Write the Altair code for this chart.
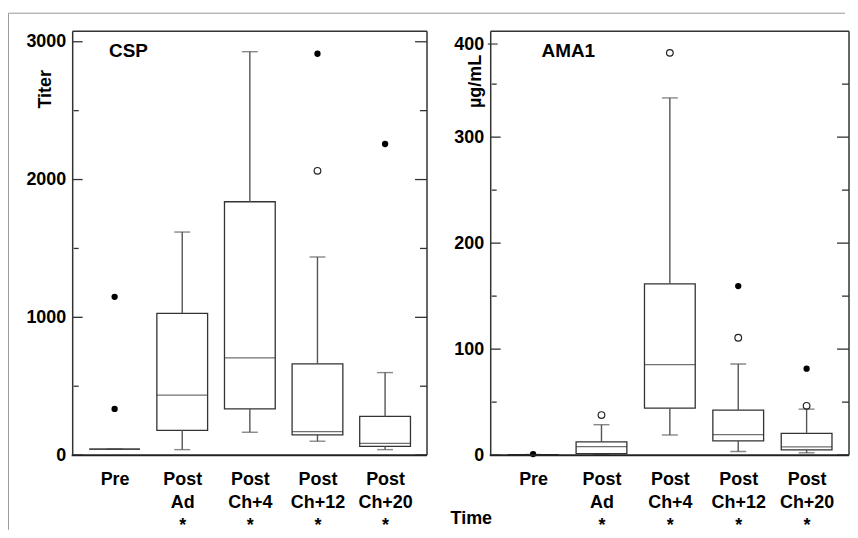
import altair as alt
import pandas as pd

# ---------------- data ----------------
groups = ["Pre", "Post|Ad|*", "Post|Ch+4|*", "Post|Ch+12|*", "Post|Ch+20|*"]

csp_low = [43, 40, 166, 101, 40]
csp_q1 = [43, 180, 335, 147, 64]
csp_med = [43, 436, 706, 171, 86]
csp_q3 = [43, 1029, 1839, 662, 281]
csp_high = [43, 1619, 2928, 1438, 599]
csp_out_group = ["Pre", "Pre", "Post|Ch+12|*", "Post|Ch+12|*", "Post|Ch+20|*"]
csp_out_value = [1149, 335, 2913, 2063, 2258]
csp_out_kind = ["filled", "filled", "filled", "open", "filled"]

ama_low = [0.5, 0.5, 19, 3.4, 2.2]
ama_q1 = [0.5, 1.5, 44.4, 13.4, 5]
ama_med = [0.5, 8, 85.4, 19.3, 7.8]
ama_q3 = [0.5, 12.5, 161.6, 42.5, 20.6]
ama_high = [0.5, 28.7, 337, 86, 43.4]
ama_out_group = ["Pre", "Post|Ad|*", "Post|Ch+4|*", "Post|Ch+12|*", "Post|Ch+12|*",
                 "Post|Ch+20|*", "Post|Ch+20|*"]
ama_out_value = [1, 37.8, 379.5, 159.5, 110.7, 81.6, 46.5]
ama_out_kind = ["filled", "open", "open", "filled", "open", "filled", "open"]

csp_major = [0, 1000, 2000, 3000]
csp_minor = [500, 1500, 2500]
ama_major = [0, 100, 200, 300]
ama_minor = [50, 150, 250, 350]
ama_labels = [0, 100, 200, 300, 400]
ama_shifted_tick = [400]

FONT = "Liberation Sans"
LINE = "#333333"
H = 426


def panel(label, width, ymax, low, q1, med, q3, high, og, ov, ok, major, minor,
          ylabels, ytitle, ytx, yty, lab_x, lab_y, xaxis, yaxis_extra,
          border=False, shifted=None):
    df = pd.DataFrame({"group": groups, "low": low, "q1": q1, "med": med,
                       "q3": q3, "high": high})
    outs = pd.DataFrame({"group": og, "value": ov, "kind": ok})
    ysc = alt.Scale(domain=[0, ymax], nice=False, zero=True)
    xsc = alt.Scale(type="point", domain=groups, padding=0.62)
    xplain = alt.X("group:N", scale=xsc)

    base = alt.Chart(df)
    box = base.mark_bar(size=51, fill="white", stroke=LINE, strokeWidth=1.3).encode(
        x=alt.X("group:N", scale=xsc, axis=xaxis),
        y=alt.Y("q1:Q", scale=ysc,
                axis=alt.Axis(title=ytitle, values=ylabels, format="d",
                              domain=False, ticks=False, grid=False,
                              labelFont=FONT, labelFontSize=18,
                              labelFontWeight="bold", labelColor="black",
                              labelPadding=7, titleFont=FONT, titleFontSize=18,
                              titleFontWeight="bold", titleColor="black",
                              titleX=ytx, titleY=yty, titleAngle=270,
                              titleAlign="center", titleBaseline="middle",
                              **yaxis_extra)),
        y2="q3:Q")
    whisk_hi = base.mark_rule(color="#555555", strokeWidth=1.4).encode(
        x=xplain, y=alt.Y("q3:Q", scale=ysc), y2="high:Q")
    whisk_lo = base.mark_rule(color="#555555", strokeWidth=1.4).encode(
        x=xplain, y=alt.Y("low:Q", scale=ysc), y2="q1:Q")
    cap_hi = base.mark_tick(color="#555555", size=16, thickness=1.4,
                            orient="horizontal").encode(
        x=xplain, y=alt.Y("high:Q", scale=ysc))
    cap_lo = base.mark_tick(color="#555555", size=16, thickness=1.4,
                            orient="horizontal").encode(
        x=xplain, y=alt.Y("low:Q", scale=ysc))
    median = base.mark_tick(color=LINE, size=51, thickness=1.3,
                            orient="horizontal").encode(
        x=xplain, y=alt.Y("med:Q", scale=ysc))
    pts_f = alt.Chart(outs).transform_filter("datum.kind == 'filled'").mark_point(
        filled=True, color="black", size=40, opacity=1).encode(
        x=xplain, y=alt.Y("value:Q", scale=ysc))
    pts_o = alt.Chart(outs).transform_filter("datum.kind == 'open'").mark_point(
        filled=False, color="#222222", size=45, strokeWidth=1.2, opacity=1).encode(
        x=xplain, y=alt.Y("value:Q", scale=ysc))

    tmaj = pd.DataFrame({"v": major})
    tmin = pd.DataFrame({"v": minor})
    ticks = [
        alt.Chart(tmaj).mark_rule(color=LINE, strokeWidth=1.3).encode(
            y=alt.Y("v:Q", scale=ysc), x=alt.value(0), x2=alt.value(10)),
        alt.Chart(tmaj).mark_rule(color=LINE, strokeWidth=1.3).encode(
            y=alt.Y("v:Q", scale=ysc), x=alt.value(width - 12),
            x2=alt.value(width)),
        alt.Chart(tmin).mark_rule(color=LINE, strokeWidth=1.3).encode(
            y=alt.Y("v:Q", scale=ysc), x=alt.value(1), x2=alt.value(6)),
        alt.Chart(tmin).mark_rule(color=LINE, strokeWidth=1.3).encode(
            y=alt.Y("v:Q", scale=ysc), x=alt.value(width - 7),
            x2=alt.value(width)),
    ]
    if shifted:
        ticks.append(alt.Chart(pd.DataFrame({"v": shifted})).mark_rule(
            color="#888888", strokeWidth=2).encode(
            y=alt.Y("v:Q", scale=ysc), yOffset=alt.value(13),
            x=alt.value(-3), x2=alt.value(7)))
    one = pd.DataFrame({"a": [0]})
    frame = [
        alt.Chart(one).mark_rule(color=LINE, strokeWidth=1.5).encode(
            x=alt.value(0), x2=alt.value(width), y=alt.value(0)),
        alt.Chart(one).mark_rule(color="#222222", strokeWidth=2).encode(
            x=alt.value(-1), x2=alt.value(width), y=alt.value(H)),
        alt.Chart(one).mark_rule(color=LINE, strokeWidth=1.5).encode(
            x=alt.value(0), y=alt.value(0), y2=alt.value(H)),
        alt.Chart(one).mark_rule(color=LINE, strokeWidth=1.5).encode(
            x=alt.value(width), y=alt.value(0), y2=alt.value(H)),
    ]
    txt = alt.Chart(pd.DataFrame({"t": [label]})).mark_text(
        font=FONT, fontSize=19, fontWeight="bold", color="black",
        align="center", baseline="middle").encode(
        text="t:N", x=alt.value(lab_x), y=alt.value(lab_y))

    layers = [box, whisk_hi, whisk_lo, cap_hi, cap_lo, median, pts_f, pts_o] \
        + ticks + frame + [txt]
    if border:
        layers.append(alt.Chart(one).mark_rule(color="#999999", strokeWidth=1).encode(
            x=alt.value(-64.5), y=alt.value(-18), y2=alt.value(H + 75)))
        layers.append(alt.Chart(one).mark_rule(color="#999999", strokeWidth=1).encode(
            x=alt.value(-64.5), x2=alt.value(776), y=alt.value(-18)))
    return alt.layer(*layers).properties(width=width, height=H)


def xaxis(title, **kw):
    return alt.Axis(title=title, domain=False, ticks=False, grid=False,
                    labelExpr="split(datum.label, '|')", labelAngle=0,
                    labelFont=FONT, labelFontSize=18, labelFontWeight="bold",
                    labelColor="black", labelLineHeight=23, labelPadding=16,
                    labelBaseline="top", labelAlign="center", **kw)


left = panel("CSP", 356, 3077, csp_low, csp_q1, csp_med, csp_q3, csp_high,
             csp_out_group, csp_out_value, csp_out_kind, csp_major, csp_minor,
             csp_major, "Titer", -27, 58, 56, 20, xaxis(None), {}, border=True)

right = panel("AMA1", 360, 400, ama_low, ama_q1, ama_med, ama_q3, ama_high,
              ama_out_group, ama_out_value, ama_out_kind, ama_major, ama_minor,
              ama_labels, "µg/mL", -15, 50, 78, 20,
              xaxis("Time", titleX=-20, titleY=64, titleAlign="center",
                    titleBaseline="middle", titleFont=FONT, titleFontSize=18,
                    titleFontWeight="bold", titleColor="black"),
              {"labelOffset": {"condition": {"test": "datum.value == 400", "value": 13},
                               "value": 0}},
              shifted=ama_shifted_tick)

chart = alt.hconcat(left, right, spacing=64, bounds="flush").properties(
    padding={"left": 0, "top": 3, "right": 0, "bottom": 0}
).configure(background="white").configure_view(
    stroke="transparent", strokeWidth=0
).configure_axis(domain=False, ticks=False, grid=False)

chart.save("out.html", embed_options={"renderer": "svg", "actions": False})
